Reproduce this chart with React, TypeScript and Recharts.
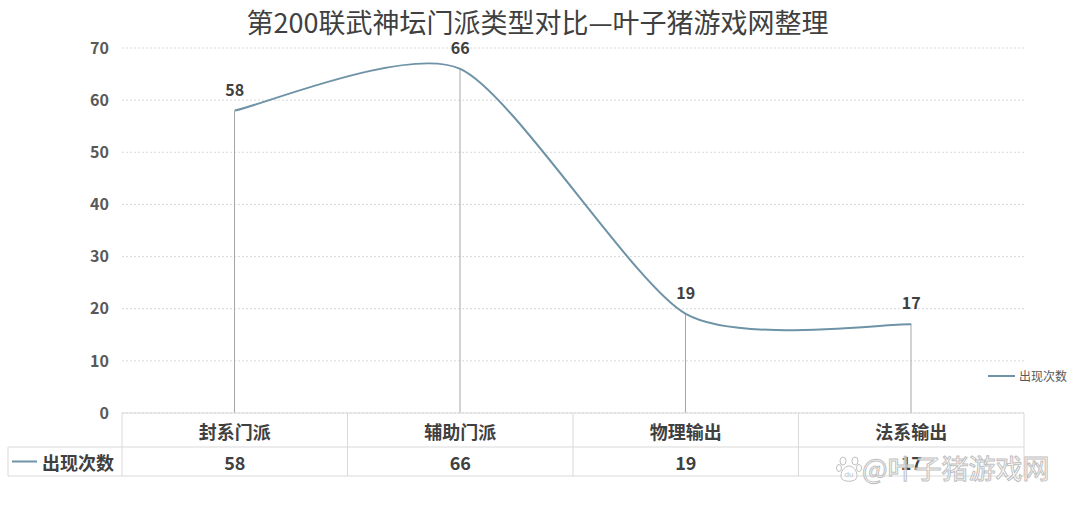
import React from 'react';
import { ComposedChart, Line, Bar, XAxis, YAxis, CartesianGrid, LabelList, Legend } from 'recharts';

const categories = ['封系门派', '辅助门派', '物理输出', '法系输出'];
const counts = [58, 66, 19, 17];
const yTicks = [0, 10, 20, 30, 40, 50, 60, 70];
const seriesName = '出现次数';
const title = '第200联武神坛门派类型对比—叶子猪游戏网整理';
const watermark = '@叶子猪游戏网';

const data = categories.map((c, i) => ({ name: c, v: counts[i] }));

const FONT = '"Noto Sans CJK SC", "Noto Sans", sans-serif';
const LINE_COLOR = '#6f93a6';
const BORDER = '#d9d9d9';
const TEXT = '#404040';

function makeCardinal(tension: number) {
  const k = (1 - tension) / 6;
  return function (context: any) {
    let pts: number[][] = [];
    return {
      areaStart() {},
      areaEnd() {},
      lineStart() {
        pts = [];
      },
      point(x: number, y: number) {
        pts.push([+x, +y]);
      },
      lineEnd() {
        const n = pts.length;
        if (!n) return;
        context.moveTo(pts[0][0], pts[0][1]);
        for (let i = 0; i < n - 1; i++) {
          const p0 = pts[Math.max(0, i - 1)];
          const p1 = pts[i];
          const p2 = pts[i + 1];
          const p3 = pts[Math.min(n - 1, i + 2)];
          context.bezierCurveTo(
            p1[0] + k * (p2[0] - p0[0]),
            p1[1] + k * (p2[1] - p0[1]),
            p2[0] - k * (p3[0] - p1[0]),
            p2[1] - k * (p3[1] - p1[1]),
            p2[0],
            p2[1]
          );
        }
      },
    };
  };
}

const smoothCurve = makeCardinal(0.3);

const DropLine = (p: any) => {
  const cx = p.x + p.width / 2;
  return <line x1={cx} x2={cx} y1={p.y} y2={p.y + p.height} stroke="#a6a6a6" strokeWidth={1} />;
};

const TableTick = (props: any) => {
  const { x, y, payload, index } = props;
  const off = payload && payload.offset ? payload.offset : 112.75;
  const i = typeof index === 'number' ? index : categories.indexOf(payload.value);
  const left = x - off;
  const right = x + off;
  const r1 = y + 34;
  const r2 = y + 63;
  const last = i === categories.length - 1;
  return (
    <g>
      <line x1={left} x2={left} y1={y} y2={r2} stroke={BORDER} />
      {last && <line x1={right} x2={right} y1={y} y2={r2} stroke={BORDER} />}
      <line x1={left} x2={right} y1={r1} y2={r1} stroke={BORDER} />
      <line x1={left} x2={right} y1={r2} y2={r2} stroke={BORDER} />
      <text x={x} y={y + 18} textAnchor="middle" dominantBaseline="central" fontSize={18} fontWeight="bold" fill={TEXT} fontFamily={FONT}>
        {payload.value}
      </text>
      <text x={x} y={y + 48.5} textAnchor="middle" dominantBaseline="central" fontSize={18} fontWeight="bold" fill={TEXT} fontFamily={FONT}>
        {counts[i]}
      </text>
      {i === 0 && (
        <g>
          <line x1={8} x2={left} y1={r1} y2={r1} stroke={BORDER} />
          <line x1={8} x2={left} y1={r2} y2={r2} stroke={BORDER} />
          <line x1={8} x2={8} y1={r1} y2={r2} stroke={BORDER} />
          <line x1={12} x2={37} y1={y + 48.5} y2={y + 48.5} stroke={LINE_COLOR} strokeWidth={2} />
          <text x={42} y={y + 48.5} textAnchor="start" dominantBaseline="central" fontSize={18} fontWeight="bold" fill={TEXT} fontFamily={FONT}>
            {seriesName}
          </text>
        </g>
      )}
    </g>
  );
};

const LegendContent = () => (
  <div style={{ display: 'flex', alignItems: 'center', fontFamily: FONT, fontSize: 12, color: '#595959' }}>
    <span style={{ display: 'inline-block', width: 27, height: 2, background: LINE_COLOR, marginRight: 4 }} />
    <span>{seriesName}</span>
  </div>
);

export default function App() {
  return (
    <div style={{ position: 'absolute', left: 0, top: 0, width: 1075, height: 508, background: '#fff' }}>
      <div
        style={{
          position: 'absolute',
          left: 0,
          width: 1075,
          top: 6,
          textAlign: 'center',
          fontFamily: FONT,
          fontSize: 27,
          color: TEXT,
          lineHeight: '32px',
        }}
      >
        {title}
      </div>
      <ComposedChart width={1075} height={508} data={data} margin={{ top: 48, right: 51, bottom: 31, left: 62 }}>
        <CartesianGrid horizontal vertical={false} stroke={BORDER} strokeDasharray="2 2" />
        <XAxis
          dataKey="name"
          height={64}
          axisLine={{ stroke: BORDER }}
          tickLine={false}
          tickSize={0}
          tickMargin={0}
          tick={<TableTick />}
          interval={0}
        />
        <YAxis
          width={60}
          domain={[0, 70]}
          ticks={yTicks}
          axisLine={false}
          tickLine={false}
          tickSize={0}
          tickMargin={13}
          tick={{ fontSize: 16, fontWeight: 'bold', fill: '#595959', fontFamily: FONT }}
        />
        <Bar dataKey="v" barSize={1} shape={<DropLine />} isAnimationActive={false} legendType="none" />
        <Line
          dataKey="v"
          name={seriesName}
          type={smoothCurve as any}
          stroke={LINE_COLOR}
          strokeWidth={2}
          dot={false}
          activeDot={false}
          isAnimationActive={false}
        >
          <LabelList dataKey="v" position="top" offset={15} fontSize={16} fontWeight="bold" fill={TEXT} fontFamily={FONT} />
        </Line>
        <Legend
          layout="horizontal"
          verticalAlign="middle"
          align="center"
          content={<LegendContent />}
          wrapperStyle={{ position: 'absolute', left: 988, top: 367, width: 90 }}
        />
      </ComposedChart>
      <div
        style={{
          position: 'absolute',
          left: 862,
          top: 449,
          fontFamily: FONT,
          fontSize: 27,
          color: 'rgba(255,255,255,0.6)',
          WebkitTextStroke: '1px #c0c0c0',
          whiteSpace: 'nowrap',
          lineHeight: '38px',
        }}
      >
        {watermark}
      </div>
      <svg style={{ position: 'absolute', left: 836, top: 455 }} width={26} height={28}>
        <g fill="rgba(255,255,255,0.6)" stroke="#c0c0c0" strokeWidth={1}>
          <ellipse cx={7} cy={6} rx={3} ry={4} />
          <ellipse cx={19} cy={6} rx={3} ry={4} />
          <ellipse cx={3} cy={13} rx={2.5} ry={3.5} />
          <ellipse cx={23} cy={13} rx={2.5} ry={3.5} />
          <path d="M13 11 C 7 11, 3 20, 6 24 C 9 27, 17 27, 20 24 C 23 20, 19 11, 13 11 Z" />
        </g>
        <text x={13} y={22} textAnchor="middle" fontSize={8} fill="#c0c0c0" fontFamily="sans-serif">du</text>
      </svg>
    </div>
  );
}
